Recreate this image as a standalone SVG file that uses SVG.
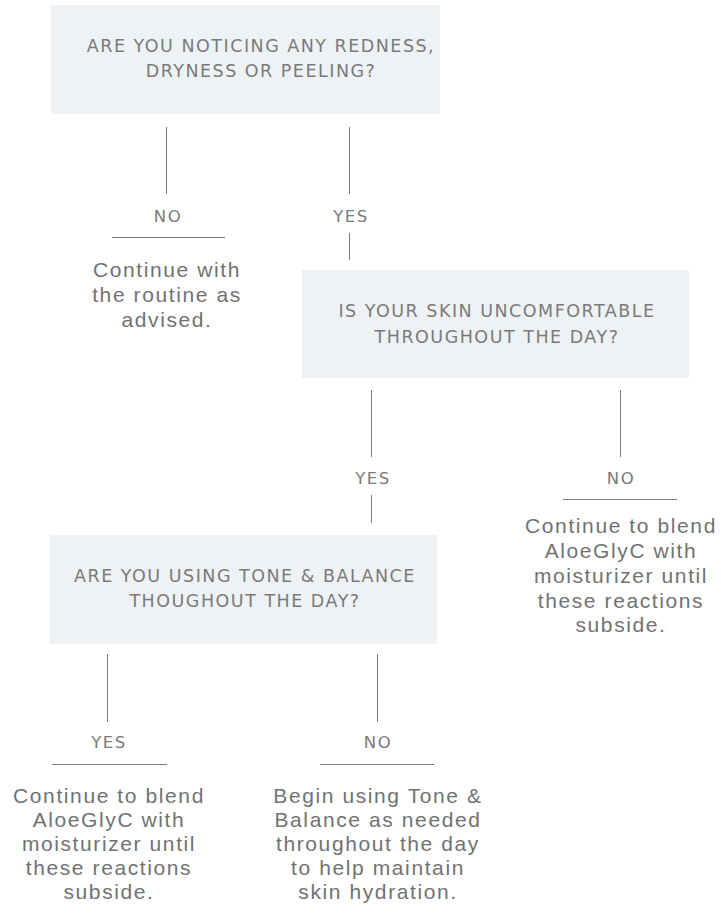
<svg xmlns="http://www.w3.org/2000/svg" width="721" height="915" viewBox="0 0 721 915">
<style>
.box{fill:#eef2f5}
.q{font-family:"DejaVu Sans","Liberation Sans",sans-serif;font-size:17.5px;fill:#7a7a7a;text-anchor:middle;letter-spacing:1.5px}
.lbl{font-family:"DejaVu Sans","Liberation Sans",sans-serif;font-size:16.5px;fill:#7a7a7a;text-anchor:middle;letter-spacing:1.5px}
.body{font-family:"Liberation Sans",Arial,sans-serif;font-size:21px;fill:#727272;text-anchor:middle;letter-spacing:1.6px}
.ln{stroke:#7a7a7a;stroke-width:1;fill:none}
</style>
<rect width="721" height="915" fill="#fff"/>
<g id="q1">
<rect class="box" x="51" y="5" width="389" height="109"/>
<text class="q" x="261" y="52">ARE YOU NOTICING ANY REDNESS,</text>
<text class="q" x="261" y="77">DRYNESS OR PEELING?</text>
</g>
<g id="q2">
<rect class="box" x="302" y="270" width="387" height="108"/>
<text class="q" x="497" y="317">IS YOUR SKIN UNCOMFORTABLE</text>
<text class="q" x="497" y="343">THROUGHOUT THE DAY?</text>
</g>
<g id="q3">
<rect class="box" x="50" y="535" width="387" height="109"/>
<text class="q" x="245" y="582">ARE YOU USING TONE &amp; BALANCE</text>
<text class="q" x="245" y="607">THOUGHOUT THE DAY?</text>
</g>
<g id="a1">
<text class="body" x="167" y="277">Continue with</text>
<text class="body" x="167" y="302">the routine as</text>
<text class="body" x="167" y="327">advised.</text>
</g>
<g id="a2">
<text class="body" x="621" y="533">Continue to blend</text>
<text class="body" x="621" y="558">AloeGlyC with</text>
<text class="body" x="621" y="583">moisturizer until</text>
<text class="body" x="621" y="608">these reactions</text>
<text class="body" x="621" y="632">subside.</text>
</g>
<g id="a3">
<text class="body" x="109" y="803">Continue to blend</text>
<text class="body" x="109" y="827">AloeGlyC with</text>
<text class="body" x="109" y="851">moisturizer until</text>
<text class="body" x="109" y="875">these reactions</text>
<text class="body" x="109" y="899">subside.</text>
</g>
<g id="a4">
<text class="body" x="378" y="803">Begin using Tone &amp;</text>
<text class="body" x="378" y="827">Balance as needed</text>
<text class="body" x="378" y="851">throughout the day</text>
<text class="body" x="378" y="875">to help maintain</text>
<text class="body" x="378" y="899">skin hydration.</text>
</g>
<g id="connectors">
<line class="ln" x1="166.5" y1="127" x2="166.5" y2="194"/>
<text class="lbl" x="168" y="222">NO</text>
<line class="ln" x1="112" y1="237.5" x2="225" y2="237.5"/>
<line class="ln" x1="349.5" y1="127" x2="349.5" y2="194"/>
<text class="lbl" x="351" y="222">YES</text>
<line class="ln" x1="349.5" y1="233" x2="349.5" y2="260"/>
<line class="ln" x1="371.5" y1="390" x2="371.5" y2="457"/>
<text class="lbl" x="373" y="484">YES</text>
<line class="ln" x1="371.5" y1="495" x2="371.5" y2="523"/>
<line class="ln" x1="620.5" y1="390" x2="620.5" y2="457"/>
<text class="lbl" x="621" y="484">NO</text>
<line class="ln" x1="563" y1="499.5" x2="677" y2="499.5"/>
<line class="ln" x1="107.5" y1="654" x2="107.5" y2="722"/>
<text class="lbl" x="109" y="748">YES</text>
<line class="ln" x1="52" y1="764.5" x2="167" y2="764.5"/>
<line class="ln" x1="377.5" y1="654" x2="377.5" y2="722"/>
<text class="lbl" x="378" y="748">NO</text>
<line class="ln" x1="320" y1="764.5" x2="434" y2="764.5"/>
</g>
</svg>
